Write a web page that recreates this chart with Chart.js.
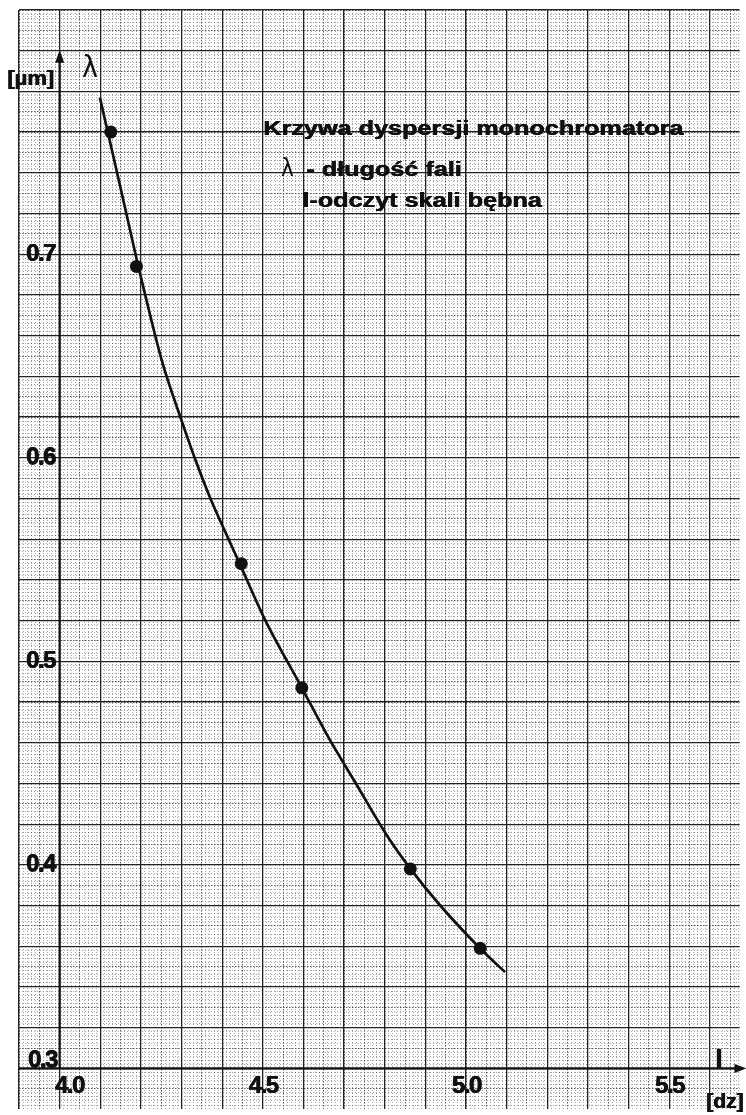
<!DOCTYPE html>
<html>
<head>
<meta charset="utf-8">
<script src="https://cdn.jsdelivr.net/npm/chart.js@4.4.1/dist/chart.umd.min.js"></script>
<style>
html,body{margin:0;padding:0;background:#fff;}
#wrap{width:746px;height:1115px;position:relative;overflow:hidden;}
</style>
</head>
<body>
<div id="wrap"><canvas id="c" width="746" height="1115"></canvas></div>
<script>
// ---- data ----
const pointL      = [4.126, 4.189, 4.447, 4.596, 4.863, 5.035];
const pointLambda = [0.760, 0.694, 0.548, 0.487, 0.398, 0.359];

const curveL      = [4.099, 4.154, 4.193, 4.224, 4.254, 4.298, 4.335, 4.370, 4.410, 4.443, 4.504, 4.596, 4.659, 4.732, 4.805, 4.862, 4.935, 5.035, 5.096];
const curveLambda = [0.777, 0.729, 0.6945, 0.669, 0.646, 0.6195, 0.5985, 0.5805, 0.5625, 0.548, 0.521, 0.487, 0.4635, 0.439, 0.4146, 0.3984, 0.3804, 0.3589, 0.3473];

const xTickValues = [4.0, 4.5, 5.0, 5.5];
const xTickLabels = ['4.0', '4.5', '5.0', '5.5'];
const yTickValues = [0.3, 0.4, 0.5, 0.6, 0.7];
const yTickLabels = ['0.3', '0.4', '0.5', '0.6', '0.7'];

const titleLine1 = 'Krzywa dyspersji monochromatora';
const titleLine2Symbol = 'λ';
const titleLine2 = '- długość fali';
const titleLine3 = 'l-odczyt skali bębna';
const yAxisSymbol = 'λ';
const yAxisUnit = '[µm]';
const xAxisSymbol = 'l';
const xAxisUnit = '[dz]';

// ---- scale ranges (graph-paper window) ----
const xMin = 3.9, xMax = 5.673;
const yMin = 0.2803, yMax = 0.82;
const xOrigin = 4.0, yOrigin = 0.3, yAxisTop = 0.8005;

function stepTicks(min, max, step) {
  const out = [];
  const k0 = Math.ceil(min / step - 1e-9), k1 = Math.floor(max / step + 1e-9);
  for (let k = k0; k <= k1; k++) out.push({ value: +(k * step).toFixed(5) });
  return out;
}
function gridScale(axis, step, color, dash, z, width) {
  return {
    type: 'linear', axis: axis, position: axis === 'x' ? 'bottom' : 'left',
    min: axis === 'x' ? xMin : yMin, max: axis === 'x' ? xMax : yMax,
    afterBuildTicks: s => { s.ticks = stepTicks(s.min, s.max, step); },
    ticks: { display: false, autoSkip: false },
    border: { display: false, dash: dash },
    grid: { color: color, lineWidth: width, drawTicks: false, z: z }
  };
}

const FONT = '"Liberation Sans", Arial, Helvetica, sans-serif';

// draw text; 'heavy' repeats the fill slightly offset to thicken the strokes
function txt(ctx, s, x, y, font, sx, align, baseline, ls, heavy) {
  ctx.save();
  ctx.font = font;
  ctx.textAlign = align || 'left';
  ctx.textBaseline = baseline || 'alphabetic';
  ctx.letterSpacing = ls || '0px';
  ctx.fillStyle = '#111';
  ctx.translate(x, y);
  ctx.scale(sx || 1, 1);
  ctx.fillText(s, 0, 0);
  if (heavy) { ctx.fillText(s, heavy, 0); ctx.fillText(s, heavy / 2, 0.4); }
  ctx.restore();
}

const axesPlugin = {
  id: 'axesPlugin',
  beforeDatasetsDraw(chart) {
    const { ctx, scales: { x, y }, chartArea: ca } = chart;
    const ox = x.getPixelForValue(xOrigin), oy = y.getPixelForValue(yOrigin);
    const top = y.getPixelForValue(yAxisTop);
    ctx.save();
    ctx.strokeStyle = '#111'; ctx.fillStyle = '#111'; ctx.lineWidth = 2.2;
    ctx.beginPath(); ctx.moveTo(ox, oy); ctx.lineTo(ox, top + 10); ctx.stroke();
    ctx.beginPath(); ctx.moveTo(ox, top); ctx.lineTo(ox - 4.5, top + 13); ctx.lineTo(ox + 4.5, top + 13); ctx.closePath(); ctx.fill();
    ctx.beginPath(); ctx.moveTo(ca.left, oy); ctx.lineTo(ca.right, oy); ctx.stroke();
    ctx.beginPath(); ctx.moveTo(ca.right + 7, oy); ctx.lineTo(ca.right - 5, oy - 4.5); ctx.lineTo(ca.right - 5, oy + 4.5); ctx.closePath(); ctx.fill();
    ctx.restore();
  },
  afterDatasetsDraw(chart) {
    const { ctx, scales: { x, y } } = chart;
    const ox = x.getPixelForValue(xOrigin), oy = y.getPixelForValue(yOrigin);
    const tf = 'bold 24px ' + FONT;
    yTickValues.forEach((v, i) => {
      const py = y.getPixelForValue(v);
      if (v === yOrigin) txt(ctx, yTickLabels[i], ox - 3, oy - 1, tf, 1, 'right', 'alphabetic', '-1.5px', 0.8);
      else txt(ctx, yTickLabels[i], ox - 5, py, tf, 1, 'right', 'middle', '-1.5px', 0.8);
    });
    xTickValues.forEach((v, i) => {
      const px = x.getPixelForValue(v);
      if (v === xOrigin) txt(ctx, xTickLabels[i], ox - 5, oy + 6, tf, 1, 'left', 'top', '-1.5px', 0.8);
      else txt(ctx, xTickLabels[i], px, oy + 6, tf, 1, 'center', 'top', '-1.5px', 0.8);
    });
    // axis symbols and units
    txt(ctx, yAxisSymbol, 82, 77, '30px "DejaVu Sans", sans-serif', 0.9);
    txt(ctx, yAxisUnit, 7, 85, 'bold 20px ' + FONT, 1.1, 'left', 'alphabetic', '0px', 0.7);
    txt(ctx, xAxisSymbol, 715, 1068, 'bold 26px ' + FONT, 1, 'left', 'alphabetic', '0px', 0.8);
    txt(ctx, xAxisUnit, 706, 1108, 'bold 20px ' + FONT, 1.05, 'left', 'alphabetic', '0px', 0.7);
    // legend / title block
    const tb = 'bold 20px ' + FONT;
    txt(ctx, titleLine1, 263, 135, tb, 1.26, 'left', 'alphabetic', '0px', 0.6);
    txt(ctx, titleLine2Symbol, 281, 176, '24px "DejaVu Sans", sans-serif', 0.9);
    txt(ctx, titleLine2, 306, 176, tb, 1.26, 'left', 'alphabetic', '0px', 0.6);
    txt(ctx, titleLine3, 302, 207, tb, 1.26, 'left', 'alphabetic', '0px', 0.6);
  }
};

new Chart(document.getElementById('c'), {
  type: 'scatter',
  data: {
    datasets: [
      {
        type: 'line',
        label: 'curve',
        data: curveL.map((v, i) => ({ x: v, y: curveLambda[i] })),
        borderColor: '#111', borderWidth: 2.7,
        pointRadius: 0, fill: false,
        cubicInterpolationMode: 'monotone'
      },
      {
        label: 'points',
        data: pointL.map((v, i) => ({ x: v, y: pointLambda[i] })),
        backgroundColor: '#111', borderColor: '#111',
        pointRadius: 6.5, pointBorderWidth: 0
      }
    ]
  },
  options: {
    responsive: false, animation: false, devicePixelRatio: 1,
    layout: { padding: { left: 19, top: 10, right: 0, bottom: 0 } },
    plugins: { legend: { display: false }, tooltip: { enabled: false }, title: { display: false } },
    scales: {
      xFine: gridScale('x', 0.01, 'rgba(90,90,90,0.55)', [1, 2], -4, 1),
      yFine: gridScale('y', 0.002, 'rgba(90,90,90,0.55)', [1, 2], -4, 1),
      xMid: gridScale('x', 0.05, '#5a5a5a', [1.5, 1.5], -3, 1),
      yMid: gridScale('y', 0.01, '#5a5a5a', [1.5, 1.5], -3, 1),
      x: gridScale('x', 0.1, '#222', [], -2, 1.3),
      y: gridScale('y', 0.02, '#222', [], -2, 1.3)
    }
  },
  plugins: [axesPlugin]
});
</script>
</body>
</html>
